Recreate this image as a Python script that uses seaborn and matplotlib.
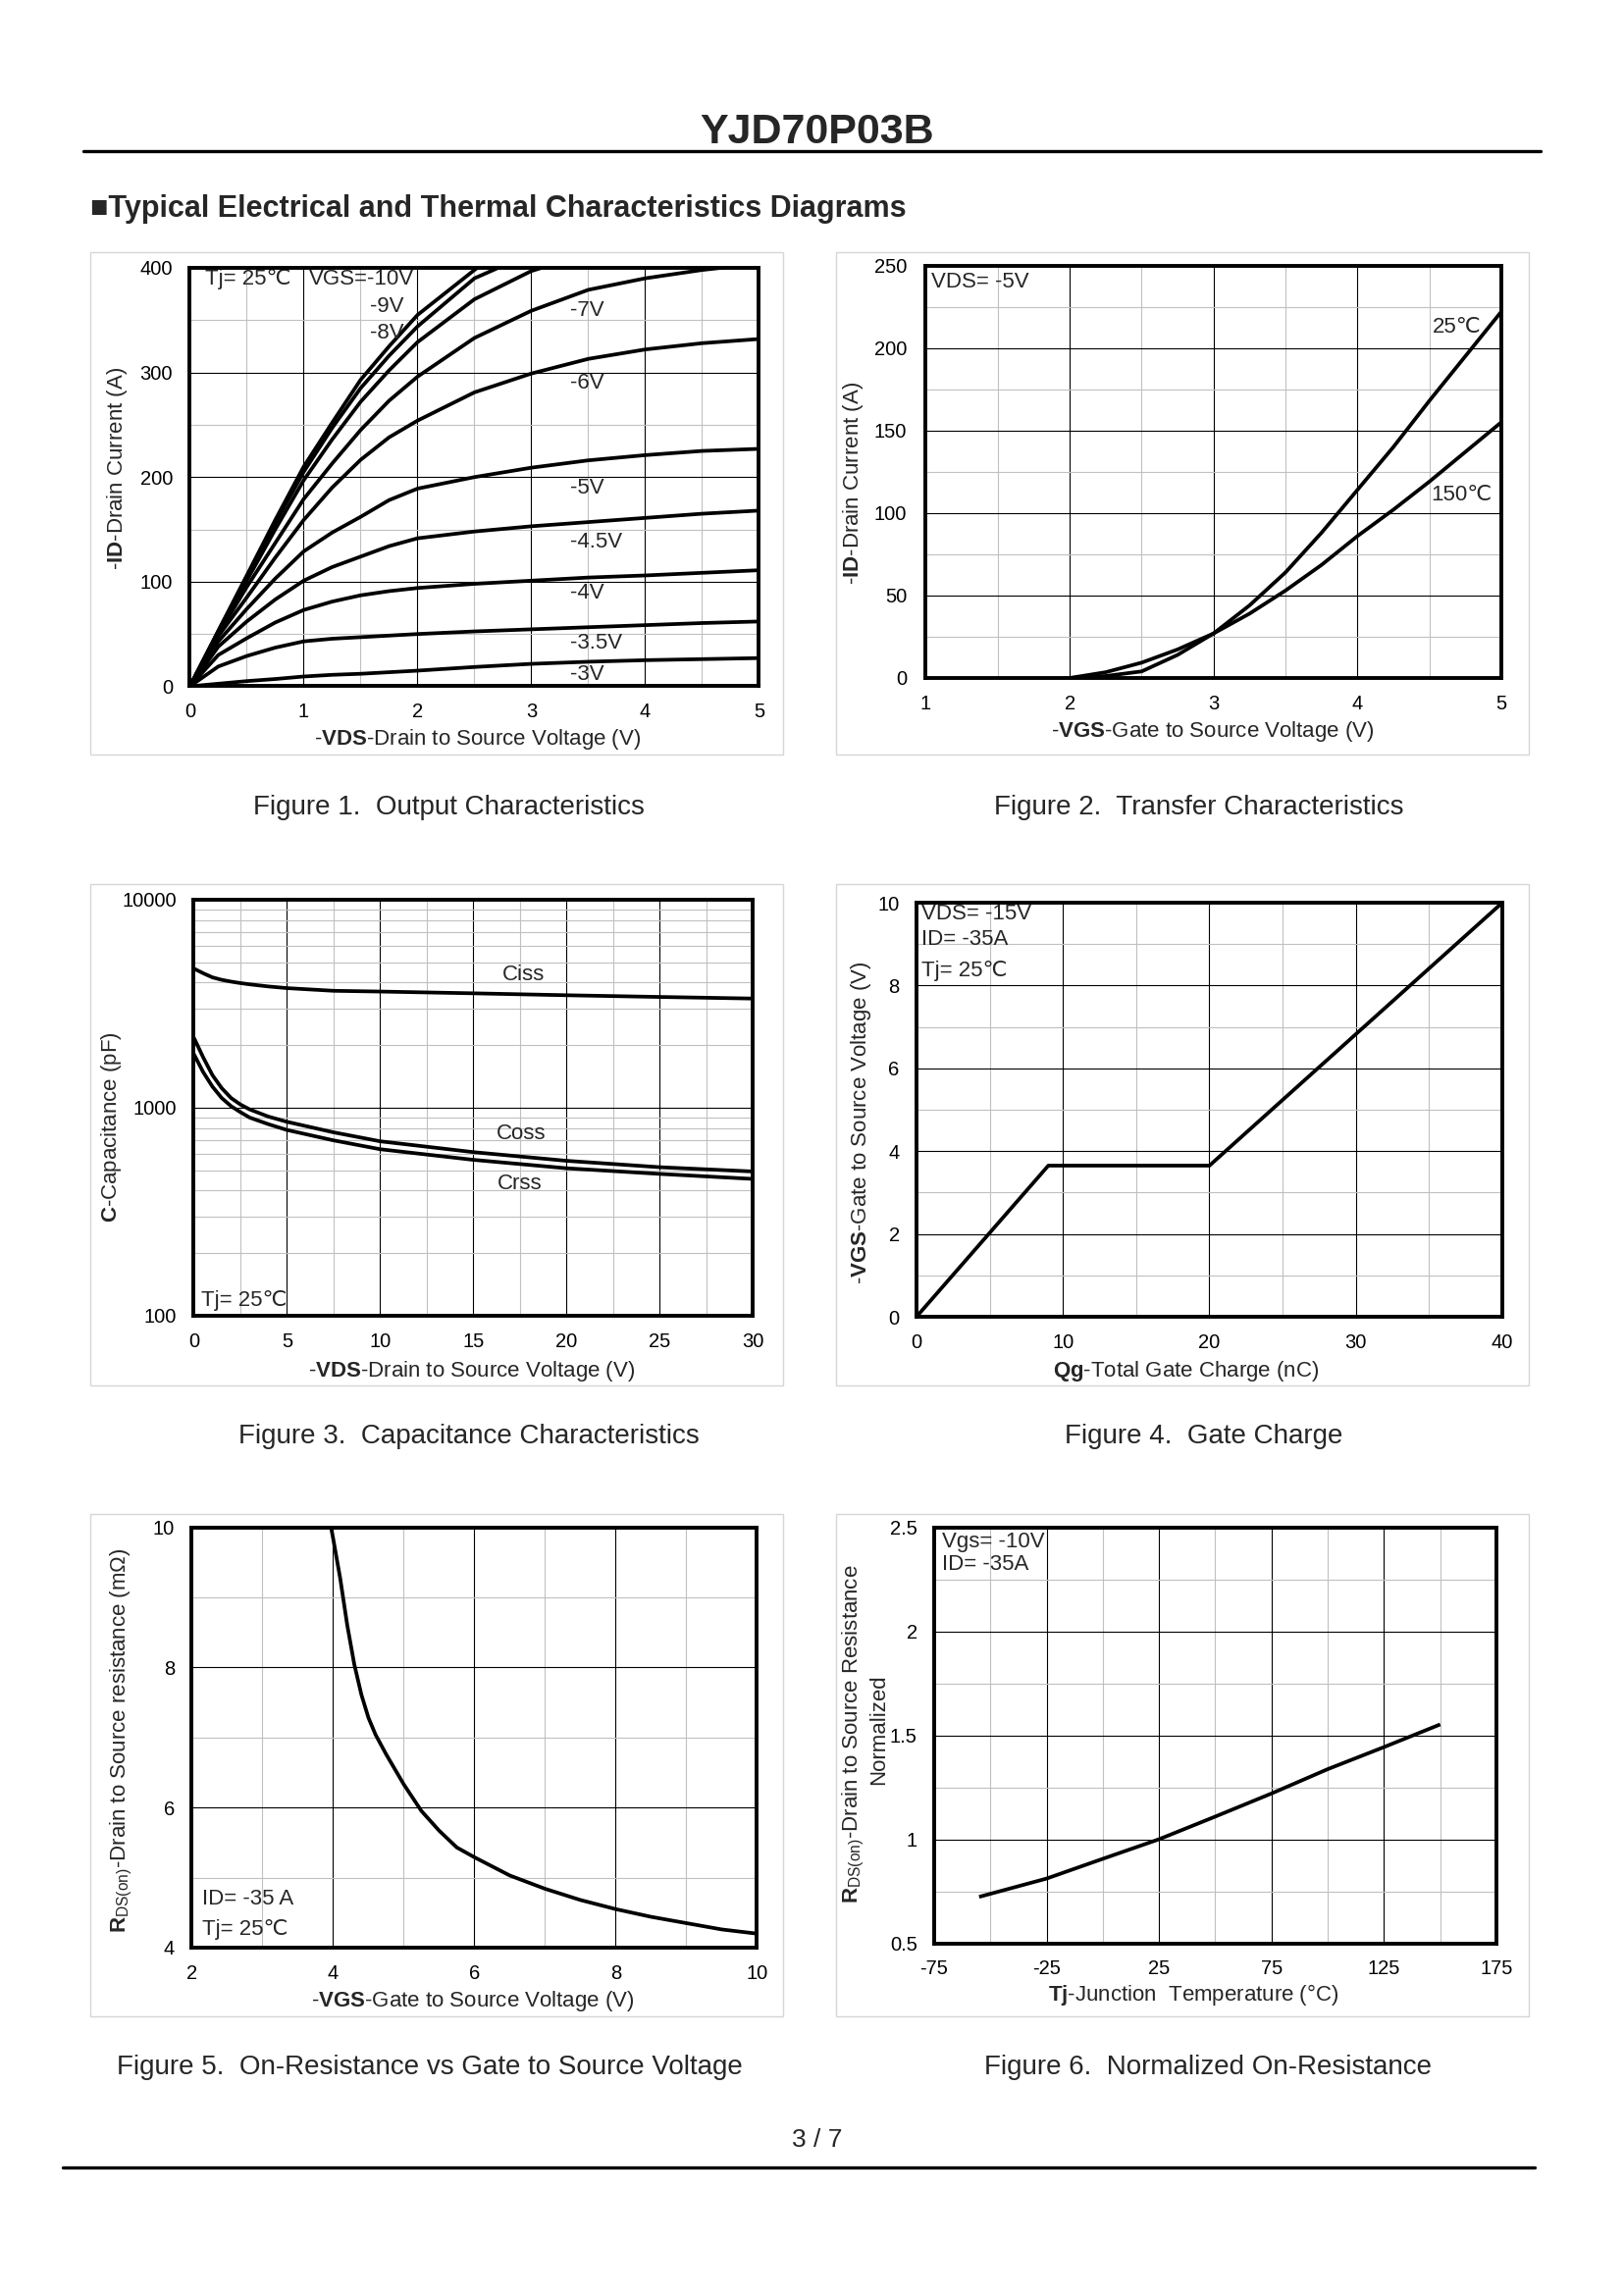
import matplotlib
matplotlib.use("Agg")
import numpy as np
import pandas as pd
import matplotlib.pyplot as plt
import seaborn as sns
from matplotlib.ticker import FixedLocator, FuncFormatter, NullFormatter
from matplotlib.patches import Rectangle
from matplotlib.lines import Line2D

# ---------------- data ----------------
# Figure 1: output characteristics
VDS1 = [0, 0.25, 0.5, 0.75, 1, 1.25, 1.5, 1.75, 2, 2.5, 3, 3.5, 4, 4.5, 5]
ID_3V = [0, 2.5, 5, 7, 9.4, 11, 12, 13.5, 15, 18.5, 21.5, 23.5, 25, 26, 27]
ID_3P5V = [0, 19, 29, 37, 43, 45.5, 47, 48.5, 50, 52.5, 54.5, 56.5, 58.5, 60.5, 62]
ID_4V = [0, 30, 46, 61, 73, 81, 87, 91, 94, 98, 101, 104, 106, 108.5, 111]
ID_4P5V = [0, 38, 62, 83, 101, 114, 124, 134, 141.5, 148, 153, 157, 161, 165, 168]
ID_5V = [0, 43, 74, 103, 129, 147, 162, 178, 189, 200, 209, 216, 221, 225, 227]
ID_6V = [0, 48, 85, 123, 159, 190, 216.5, 238, 254, 281, 299, 313, 322, 328, 332]
ID_7V = [0, 50, 95, 137, 179, 213, 245, 273, 296, 333, 359, 379, 390, 398, 404]
VDS1_8V = [0, 0.25, 0.5, 0.75, 1, 1.25, 1.5, 1.75, 2, 2.5, 3, 3.15]
ID_8V = [0, 52, 101, 150, 197, 236, 272, 302, 329, 370, 397, 402]
VDS1_9V = [0, 0.25, 0.5, 0.75, 1, 1.25, 1.5, 1.75, 2, 2.5, 2.75]
ID_9V = [0, 53, 105, 156, 205, 247, 285, 316, 344, 390, 402]
VDS1_10V = [0, 0.25, 0.5, 0.75, 1, 1.25, 1.5, 1.75, 2, 2.5, 2.55]
ID_10V = [0, 53, 106, 159, 210, 252, 293, 325, 355, 398, 402]
VGS1_LABELS = ["-3V", "-3.5V", "-4V", "-4.5V", "-5V", "-6V", "-7V"]

# Figure 2: transfer characteristics
VGS2 = [2.0, 2.25, 2.5, 2.75, 3.0, 3.25, 3.5, 3.75, 4.0, 4.25, 4.5, 4.75, 5.0]
ID2_25C = [0, 1.2, 4, 14, 27, 44, 64, 88, 114, 140, 168, 195, 222]
ID2_150C = [0, 3.5, 9.3, 17.3, 27, 39, 53, 68.5, 86, 102, 119, 137, 155]

# Figure 3: capacitance
VDS3 = [0, 0.5, 1, 1.5, 2, 2.5, 3, 4, 5, 7.5, 10, 15, 20, 25, 30]
CISS = [4670, 4435, 4235, 4120, 4040, 3975, 3920, 3830, 3760, 3650, 3620, 3550, 3475, 3410, 3350]
COSS = [2175, 1750, 1435, 1242, 1114, 1037, 982, 907, 856, 762, 690, 612, 556, 518, 494]
CRSS = [1814, 1486, 1264, 1114, 1018, 953, 897, 834, 782, 697, 632, 562, 512, 481, 455]

# Figure 4: gate charge
QG = [0, 9, 20, 40]
VGS4 = [0, 3.65, 3.65, 10]

# Figure 5: RDS(on) vs VGS
VGS5 = [3.97, 4.0, 4.1, 4.2, 4.3, 4.4, 4.5, 4.6, 4.75, 5.0, 5.25, 5.5, 5.75, 6.0,
        6.5, 7.0, 7.5, 8.0, 8.5, 9.0, 9.5, 10.0]
RDS5 = [10.0, 9.84, 9.27, 8.6, 8.04, 7.61, 7.28, 7.04, 6.76, 6.33, 5.95, 5.67, 5.43, 5.29,
        5.03, 4.84, 4.68, 4.55, 4.44, 4.35, 4.26, 4.20]

# Figure 6: normalized RDS(on) vs Tj
TJ6 = [-55, -25, 0, 25, 50, 75, 100, 125, 150]
RN6 = [0.723, 0.811, 0.906, 1.0, 1.109, 1.22, 1.337, 1.443, 1.552]

# ---------------- style ----------------
sns.set_style("white")
plt.rcParams["font.family"] = ["Liberation Sans", "DejaVu Sans"]
plt.rcParams["mathtext.fontset"] = "custom"
plt.rcParams["mathtext.rm"] = "Liberation Sans"
plt.rcParams["mathtext.bf"] = "Liberation Sans:bold"
plt.rcParams["mathtext.it"] = "Liberation Sans:italic"
plt.rcParams["mathtext.sf"] = "Liberation Sans"
plt.rcParams["axes.unicode_minus"] = False

W, H = 1656, 2339
fig = plt.figure(figsize=(W / 100, H / 100), dpi=100)
fig.patch.set_facecolor("white")


def fx(px):
    return px / W


def fy(py):
    return 1 - py / H


def add_ax(l, t, r, b):
    return fig.add_axes([fx(l), fy(b), (r - l) / W, (b - t) / H])


def panel(l, t, r, b):
    fig.add_artist(Rectangle((fx(l), fy(b)), (r - l) / W, (b - t) / H,
                             transform=fig.transFigure, fill=False,
                             edgecolor="#d6d6d6", lw=1.0))


def hline(y, x0, x1, lw):
    fig.add_artist(Line2D([fx(x0), fx(x1)], [fy(y), fy(y)],
                          transform=fig.transFigure, color="black", lw=lw))


fmt = FuncFormatter(lambda v, p: f"{v:g}")
LW = 2.7
TICK_FS = 14.5
ANN_FS = 16
LAB_FS = 16


def style(ax, xlim, ylim, xmaj, xmin, ymaj, ymin, logy=False, ypad=12.5):
    ax.set_xlim(*xlim)
    if logy:
        ax.set_yscale("log")
    ax.set_ylim(*ylim)
    ax.xaxis.set_major_locator(FixedLocator(xmaj))
    ax.xaxis.set_minor_locator(FixedLocator(xmin))
    ax.yaxis.set_major_locator(FixedLocator(ymaj))
    ax.yaxis.set_minor_locator(FixedLocator(ymin))
    ax.xaxis.set_major_formatter(fmt)
    ax.yaxis.set_major_formatter(fmt)
    ax.xaxis.set_minor_formatter(NullFormatter())
    ax.yaxis.set_minor_formatter(NullFormatter())
    ax.grid(True, which="major", color="black", lw=0.8)
    ax.grid(True, which="minor", color="#c0c0c0", lw=0.8)
    ax.set_axisbelow(True)
    for s in ax.spines.values():
        s.set_visible(True)
        s.set_color("black")
        s.set_linewidth(2.8)
        s.set_zorder(10)
    ax.tick_params(which="both", length=0, labelsize=TICK_FS, colors="black")
    ax.tick_params(axis="x", which="both", pad=12)
    ax.tick_params(axis="y", which="both", pad=ypad)
    ax.set_xlabel("")
    ax.set_ylabel("")
    ax.set_facecolor("white")


def line(ax, x, y):
    sns.lineplot(x=x, y=y, ax=ax, color="black", lw=LW, estimator=None,
                 sort=False, solid_capstyle="butt", solid_joinstyle="round")


def xlabel(x, y, s):
    fig.text(fx(x), fy(y), s, ha="center", va="center", fontsize=LAB_FS)


def ylabel(x, y, s):
    fig.text(fx(x), fy(y), s, rotation=90, ha="center", va="center", fontsize=LAB_FS)


# ---------------- page decorations ----------------
fig.text(fx(833), fy(146), "YJD70P03B", ha="center", va="baseline",
         fontsize=31, fontweight="bold")
hline(153.7, 85, 1570, 2.4)
fig.text(fx(92.5), fy(221), "■Typical Electrical and Thermal Characteristics Diagrams",
         ha="left", va="baseline", fontsize=22, fontweight="bold")

panel(92.5, 257, 798.5, 768.5)
panel(852, 257, 1558, 768.5)
panel(92.5, 901.5, 798.5, 1412)
panel(852, 901.5, 1558, 1412)
panel(92.5, 1543, 798.5, 2055)
panel(852, 1543, 1558, 2055)

# ---------------- Figure 1 ----------------
ax1 = add_ax(193.5, 273, 773.5, 699.5)
rows = []
for lab, ys in zip(VGS1_LABELS, [ID_3V, ID_3P5V, ID_4V, ID_4P5V, ID_5V, ID_6V, ID_7V]):
    rows += [(lab, x, y) for x, y in zip(VDS1, ys)]
for lab, xs, ys in [("-8V", VDS1_8V, ID_8V), ("-9V", VDS1_9V, ID_9V), ("-10V", VDS1_10V, ID_10V)]:
    rows += [(lab, x, y) for x, y in zip(xs, ys)]
df1 = pd.DataFrame(rows, columns=["VGS", "VDS", "ID"])
sns.lineplot(data=df1, x="VDS", y="ID", hue="VGS",
             palette={k: "black" for k in df1["VGS"].unique()},
             legend=False, estimator=None, sort=False, lw=LW, ax=ax1,
             solid_joinstyle="round")
style(ax1, (0, 5), (0, 400), [0, 1, 2, 3, 4, 5], [0.5, 1.5, 2.5, 3.5, 4.5],
      [0, 100, 200, 300, 400], [50, 150, 250, 350])
ax1.text(0.13, 389, "Tj= 25℃", fontsize=ANN_FS, va="center", ha="left")
ax1.text(1.05, 389, "VGS=-10V", fontsize=ANN_FS, va="center", ha="left")
ax1.text(1.58, 363, "-9V", fontsize=ANN_FS, va="center", ha="left")
ax1.text(1.58, 338, "-8V", fontsize=ANN_FS, va="center", ha="left")
for lab, yv in [("-7V", 359), ("-6V", 290), ("-5V", 189), ("-4.5V", 138),
                ("-4V", 89), ("-3.5V", 41), ("-3V", 11)]:
    ax1.text(3.34, yv, lab, fontsize=ANN_FS, va="center", ha="left")
ylabel(119.5, 477, r"-$\mathbf{ID}$-Drain Current (A)")
xlabel(486.5, 753.5, r"-$\mathbf{VDS}$-Drain to Source Voltage (V)")

# ---------------- Figure 2 ----------------
ax2 = add_ax(943.5, 270.5, 1530, 691)
line(ax2, VGS2, ID2_25C)
line(ax2, VGS2, ID2_150C)
style(ax2, (1, 5), (0, 250), [1, 2, 3, 4, 5], [1.5, 2.5, 3.5, 4.5],
      [0, 50, 100, 150, 200, 250], [25, 75, 125, 175, 225], ypad=14)
ax2.text(1.04, 240, "VDS= -5V", fontsize=ANN_FS, va="center", ha="left")
ax2.text(4.69, 212.5, "25℃", fontsize=ANN_FS, va="center", ha="center")
ax2.text(4.72, 111, "150℃", fontsize=ANN_FS, va="center", ha="center")
ylabel(870, 492, r"-$\mathbf{ID}$-Drain Current (A)")
xlabel(1236, 746, r"-$\mathbf{VGS}$-Gate to Source Voltage (V)")

# ---------------- Figure 3 ----------------
ax3 = add_ax(197.5, 917, 767, 1341)
line(ax3, VDS3, CISS)
line(ax3, VDS3, COSS)
line(ax3, VDS3, CRSS)
minor_y = [m * d for d in (100, 1000) for m in range(2, 10)]
style(ax3, (0, 30), (100, 10000), [0, 5, 10, 15, 20, 25, 30],
      [2.5, 7.5, 12.5, 17.5, 22.5, 27.5], [100, 1000, 10000], minor_y, logy=True)
ax3.text(17.7, 4340, "Ciss", fontsize=ANN_FS, va="center", ha="center")
ax3.text(17.6, 750, "Coss", fontsize=ANN_FS, va="center", ha="center")
ax3.text(17.5, 431, "Crss", fontsize=ANN_FS, va="center", ha="center")
ax3.text(0.4, 118, "Tj= 25℃", fontsize=ANN_FS, va="center", ha="left")
ylabel(113.5, 1149, r"$\mathbf{C}$-Capacitance (pF)")
xlabel(480.5, 1397, r"-$\mathbf{VDS}$-Drain to Source Voltage (V)")

# ---------------- Figure 4 ----------------
ax4 = add_ax(934, 920, 1531, 1342)
line(ax4, QG, VGS4)
style(ax4, (0, 40), (0, 10), [0, 10, 20, 30, 40], [5, 15, 25, 35],
      [0, 2, 4, 6, 8, 10], [1, 3, 5, 7, 9])
ax4.text(0.35, 9.72, "VDS= -15V", fontsize=ANN_FS, va="center", ha="left")
ax4.text(0.35, 9.12, "ID= -35A", fontsize=ANN_FS, va="center", ha="left")
ax4.text(0.35, 8.35, "Tj= 25℃", fontsize=ANN_FS, va="center", ha="left")
ylabel(877.5, 1144, r"-$\mathbf{VGS}$-Gate to Source Voltage (V)")
xlabel(1209, 1397, r"$\mathbf{Qg}$-Total Gate Charge (nC)")

# ---------------- Figure 5 ----------------
ax5 = add_ax(195.5, 1556.5, 771.5, 1985)
line(ax5, VGS5, RDS5)
style(ax5, (2, 10), (4, 10), [2, 4, 6, 8, 10], [3, 5, 7, 9],
      [4, 6, 8, 10], [5, 7, 9])
ax5.text(2.15, 4.69, "ID= -35 A", fontsize=ANN_FS, va="center", ha="left")
ax5.text(2.15, 4.26, "Tj= 25℃", fontsize=ANN_FS, va="center", ha="left")
ylabel(124, 1774, r"$\mathbf{R}_{\mathrm{DS(on)}}$-Drain to Source resistance (mΩ)")
xlabel(482, 2039, r"-$\mathbf{VGS}$-Gate to Source Voltage (V)")

# ---------------- Figure 6 ----------------
ax6 = add_ax(952, 1556.5, 1525, 1980.5)
line(ax6, TJ6, RN6)
style(ax6, (-75, 175), (0.5, 2.5), [-75, -25, 25, 75, 125, 175], [-50, 0, 50, 100, 150],
      [0.5, 1, 1.5, 2, 2.5], [0.75, 1.25, 1.75, 2.25])
ax6.text(-71.5, 2.43, "Vgs= -10V", fontsize=ANN_FS, va="center", ha="left")
ax6.text(-71.5, 2.32, "ID= -35A", fontsize=ANN_FS, va="center", ha="left")
ylabel(870, 1767, r"$\mathbf{R}_{\mathrm{DS(on)}}$-Drain to Source Resistance")
ylabel(895.5, 1763, "Normalized")
xlabel(1216, 2033, r"$\mathbf{Tj}$-Junction  Temperature (°C)")

# ---------------- captions ----------------
CAPTIONS = ["Figure 1.  Output Characteristics", "Figure 2.  Transfer Characteristics",
            "Figure 3.  Capacitance Characteristics", "Figure 4.  Gate Charge",
            "Figure 5.  On-Resistance vs Gate to Source Voltage",
            "Figure 6.  Normalized On-Resistance"]
cap_pos = [(457.5, 829.5), (1222, 829.5), (478, 1471), (1227, 1471), (438, 2114.5), (1231, 2114.5)]
for txt, (cx, cy) in zip(CAPTIONS, cap_pos):
    fig.text(fx(cx), fy(cy), txt, ha="center", va="baseline", fontsize=20)

fig.text(fx(833), fy(2188.5), "3 / 7", ha="center", va="baseline", fontsize=19)
hline(2209, 64, 1564, 2.4)

fig.savefig("out.png", dpi=100, facecolor="white")
